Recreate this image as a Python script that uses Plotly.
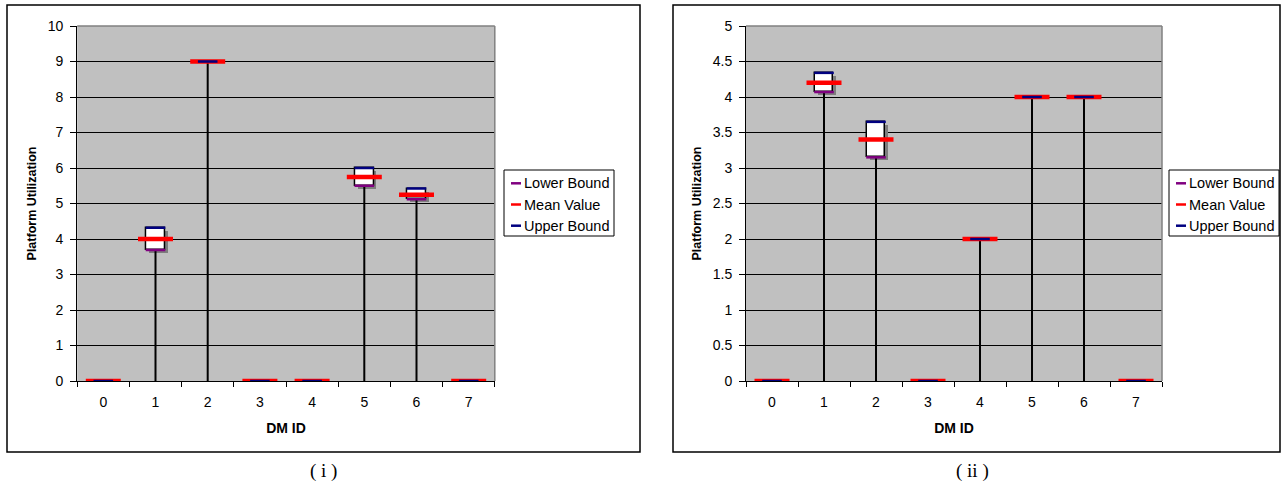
import plotly.graph_objects as go

W, H = 1282, 487

dm_ids = ["0", "1", "2", "3", "4", "5", "6", "7"]

# Panel (i): platform utilization per DM
lower_i = [0, 3.69, 9, 0, 0, 5.5, 5.12, 0]
mean_i = [0, 4.0, 9, 0, 0, 5.75, 5.25, 0]
upper_i = [0, 4.32, 9, 0, 0, 6.0, 5.42, 0]
yticks_i = [0, 1, 2, 3, 4, 5, 6, 7, 8, 9, 10]

# Panel (ii): platform utilization per DM
lower_ii = [0, 4.07, 3.15, 0, 2, 4, 4, 0]
mean_ii = [0, 4.2, 3.4, 0, 2, 4, 4, 0]
upper_ii = [0, 4.34, 3.65, 0, 2, 4, 4, 0]
yticks_ii = [0, 0.5, 1, 1.5, 2, 2.5, 3, 3.5, 4, 4.5, 5]
yticklabels_ii = ["0", "0.5", "1", "1.5", "2", "2.5", "3", "3.5", "4", "4.5", "5"]

series_names = ["Lower Bound", "Mean Value", "Upper Bound"]
series_colors = ["#800080", "#FF0000", "#000080"]

FONT = "Liberation Sans, Arial, sans-serif"
BOX_W = 0.36


def px(x):
    return x / W


def py(y):
    return 1 - y / H


fig = go.Figure()


def add_panel(lower, mean, upper, xref, yref, y_px_per_unit):
    # stems from the axis up to the lower bound
    sx, sy = [], []
    for c, lo in zip(dm_ids, lower):
        if lo > 0:
            sx += [c, c, None]
            sy += [0, lo, None]
    fig.add_trace(go.Scatter(x=sx, y=sy, mode="lines", line=dict(color="black", width=2),
                             xaxis=xref, yaxis=yref, showlegend=False, hoverinfo="skip"))

    # boxes spanning lower..upper, with a drop shadow
    keep = [i for i in range(len(dm_ids)) if upper[i] > lower[i]]
    cats = [dm_ids[i] for i in keep]
    bases = [lower[i] for i in keep]
    heights = [upper[i] - lower[i] for i in keep]
    dy = 3 / y_px_per_unit
    fig.add_trace(go.Bar(x=cats, y=heights, base=[b - dy for b in bases], width=BOX_W,
                         offset=-BOX_W / 2 + 0.055, marker=dict(color="#7d7d7d", line=dict(width=0)),
                         xaxis=xref, yaxis=yref, showlegend=False, hoverinfo="skip"))
    fig.add_trace(go.Bar(x=cats, y=heights, base=bases, width=BOX_W,
                         marker=dict(color="white", line=dict(color="black", width=1.5)),
                         xaxis=xref, yaxis=yref, showlegend=False, hoverinfo="skip"))

    # bound and mean markers
    for vals, name, col, size, lw in [(lower, series_names[0], series_colors[0], 14, 2.5),
                                      (mean, series_names[1], series_colors[1], 25, 4.5),
                                      (upper, series_names[2], series_colors[2], 14, 2.5)]:
        fig.add_trace(go.Scatter(x=dm_ids, y=vals, mode="markers", name=name,
                                 marker=dict(symbol="line-ew", size=size, line=dict(color=col, width=lw)),
                                 xaxis=xref, yaxis=yref, showlegend=False))


add_panel(lower_i, mean_i, upper_i, "x", "y", 35.5)
add_panel(lower_ii, mean_ii, upper_ii, "x2", "y2", 71.0)

tick_font = dict(family=FONT, size=14, color="black")

xcommon = dict(type="category", categoryorder="array", categoryarray=dm_ids, range=[-0.5, 7.5],
               tickson="boundaries", ticks="outside", ticklen=5, tickcolor="black",
               showline=True, linecolor="black", linewidth=1, showgrid=False, automargin=False,
               tickfont=tick_font, ticklabelstandoff=8,
               title=dict(text="DM ID", font=dict(family=FONT, size=14, color="black", weight="bold"),
                          standoff=14))
ycommon = dict(ticks="outside", ticklen=6, tickcolor="black", showline=True, linecolor="black",
               linewidth=1, showgrid=True, gridcolor="black", gridwidth=1, zeroline=False,
               automargin=False, tickfont=tick_font, ticklabelstandoff=4,
               title=dict(text="Platform Utilization",
                          font=dict(family=FONT, size=12.5, color="black", weight="bold"), standoff=8))

fig.update_layout(
    width=W, height=H, margin=dict(l=0, r=0, t=0, b=0, autoexpand=False),
    paper_bgcolor="white", plot_bgcolor="#C0C0C0", barmode="overlay", bargap=0,
    showlegend=False,
    xaxis=dict(xcommon, domain=[px(77.2), px(494.8)], anchor="y"),
    yaxis=dict(ycommon, domain=[py(381), py(26)], anchor="x", range=[0, 10],
               tickvals=yticks_i, ticktext=[str(v) for v in yticks_i]),
    xaxis2=dict(xcommon, domain=[px(746), px(1162)], anchor="y2"),
    yaxis2=dict(ycommon, domain=[py(381), py(26)], anchor="x2", range=[0, 5],
                tickvals=yticks_ii, ticktext=yticklabels_ii),
)

# panel frames
for x0, x1 in [(7, 640), (673, 1280)]:
    fig.add_shape(type="rect", xref="paper", yref="paper", x0=px(x0), x1=px(x1), y0=py(452), y1=py(5),
                  line=dict(color="black", width=1.5), fillcolor="rgba(0,0,0,0)")

# grey plot-area border along the top and right edges
for xr, yr in [("x domain", "y domain"), ("x2 domain", "y2 domain")]:
    fig.add_shape(type="line", xref=xr, yref=yr, x0=0, x1=1, y0=1, y1=1,
                  line=dict(color="#808080", width=1.5), layer="above")
    fig.add_shape(type="line", xref=xr, yref=yr, x0=1, x1=1, y0=0, y1=1,
                  line=dict(color="#808080", width=1.5), layer="above")

# legend boxes
for bx in [504, 1169]:
    fig.add_shape(type="rect", xref="paper", yref="paper", x0=px(bx), x1=px(bx + 110),
                  y0=py(236), y1=py(170), line=dict(color="black", width=1), fillcolor="white")
    for k, (name, col) in enumerate(zip(series_names, series_colors)):
        yc = 183.3 + 21.2 * k
        fig.add_shape(type="line", xref="paper", yref="paper", x0=px(bx + 7), x1=px(bx + 17),
                      y0=py(yc), y1=py(yc), line=dict(color=col, width=2.5))
        fig.add_annotation(text=name, xref="paper", yref="paper", x=px(bx + 18), y=py(yc),
                           xanchor="left", yanchor="middle", showarrow=False,
                           font=dict(family=FONT, size=14.5, color="black"))

# captions under each panel
for text, xc in [("( i )", 323), ("( ii )", 972)]:
    fig.add_annotation(text=text, xref="paper", yref="paper", x=px(xc), y=py(471),
                       xanchor="center", yanchor="middle", showarrow=False,
                       font=dict(family="Liberation Serif, Times New Roman, serif", size=19, color="black"))

fig.write_html("out.html")
